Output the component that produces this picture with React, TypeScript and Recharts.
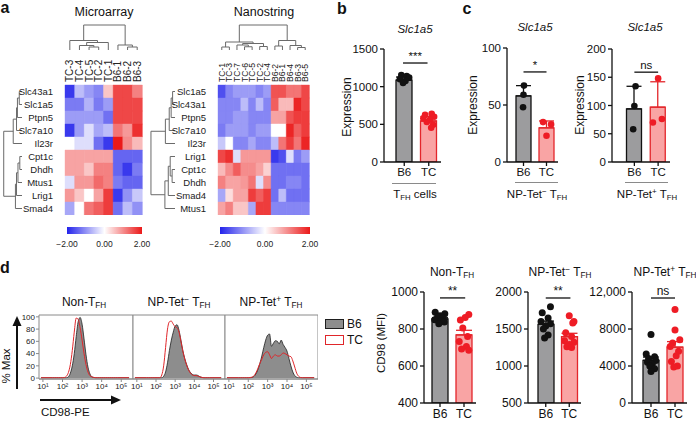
import React from 'react';
import {
  BarChart, Bar, Cell, XAxis, YAxis, ScatterChart, Scatter, ComposedChart,
  Area, Line, ErrorBar, ReferenceLine, ReferenceArea,
} from 'recharts';

const FONT = '"Liberation Sans", Arial, Helvetica, sans-serif';

// ---------- a: heatmaps ----------
const maCols = ['TC-3', 'TC-4', 'TC-5', 'TC-2', 'TC-1', 'B6-1', 'B6-2', 'B6-3'];
const maRows = ['Slc43a1', 'Slc1a5', 'Ptpn5', 'Slc7a10', 'Il23r', 'Cpt1c', 'Dhdh', 'Mtus1', 'Lrig1', 'Smad4'];
const maValues = [
  [-1.8, -0.6, -0.9, -1.1, 0.5, 1.6, 1.6, 1.1],
  [-1.2, -1.2, -0.7, -1.2, -0.9, 1.6, 1.6, 1.6],
  [-0.9, -0.9, -0.9, -0.9, -1.3, 1.6, 1.6, 1.6],
  [-1.8, -0.9, -0.3, -0.8, -0.6, 1.2, 0.9, 1.8],
  [0, -0.3, -0.3, -1.3, -1.8, 2.0, 1.0, 0.6],
  [0.8, 0.8, 0.8, 0.8, 0.8, -1.4, -1.4, -1.4],
  [0.8, 0.8, 0.5, 1.1, 1.1, -1.4, -1.8, -1.2],
  [-0.3, 0.9, 0.9, 1.3, 1.1, -1.2, -1.4, -1.4],
  [0.9, 0.5, 0, 0.8, 1.7, -1.8, -1.0, -0.5],
  [-0.8, 0, 1.2, 1.4, 1.7, -1.3, -0.6, -1.0],
];
// [leafA, heightA, leafB, heightB, joinHeight]
const maColLinks = [
  [2, 0, 3, 0, 1.2], [1, 0, 2.5, 1.2, 1.8], [1.75, 1.8, 4, 0, 3.0], [0, 0, 2.875, 3.0, 3.8],
  [6, 0, 7, 0, 1.2], [5, 0, 6.5, 1.2, 2.0], [1.44, 3.8, 5.75, 2.0, 10],
];
const maRowLinks = [
  [0, 0, 1, 0, 1.5], [0.5, 1.5, 2, 0, 2.5], [1.25, 2.5, 3, 0, 3.0], [2.125, 3.0, 4, 0, 4.8],
  [5, 0, 6, 0, 1.2], [5.5, 1.2, 7, 0, 2.2], [6.25, 2.2, 8, 0, 3.0], [7.125, 3.0, 9, 0, 3.6],
  [3.06, 4.8, 8.06, 3.6, 10],
];

const nsCols = ['TC-1', 'TC-3', 'TC-7', 'TC-6', 'TC-5', 'TC-2', 'TC-4', 'B6-2', 'B6-1', 'B6-4', 'B6-3', 'B6-5'];
const nsRows = ['Slc1a5', 'Slc43a1', 'Ptpn5', 'Slc7a10', 'Il23r', 'Lrig1', 'Cpt1c', 'Dhdh', 'Smad4', 'Mtus1'];
const nsValues = [
  [-1.6, -1.1, -0.9, -0.9, -0.9, -1.1, -0.9, 1.5, 1.5, 1.2, 1.2, 1.6],
  [-1.1, -1.1, -1.1, -0.6, -1.1, -0.6, -1.1, 1.4, 0.6, 0.6, 1.9, 1.6],
  [-1.1, -1.1, -0.9, -0.9, -1.1, -1.1, -1.1, 0.8, 0.8, 1.5, 1.7, 1.7],
  [-1.2, -0.9, -0.9, -0.9, -1.1, -0.9, -0.9, 0, 0, 1.9, 1.4, 1.7],
  [-0.5, 0, -1.1, -1.1, -0.8, -1.1, -1.1, -0.6, 1.2, 1.7, 1.2, 1.9],
  [1.6, 1.8, -0.3, 0.9, 0.9, 0.9, 0.9, -1.8, -1.6, -0.3, -1.2, -0.9],
  [0.6, 1.0, 1.4, 1.0, 1.0, 0.8, 0.4, -1.3, -1.3, -1.3, -1.3, -1.3],
  [1.1, 0.8, 0.8, 0.9, 1.2, -0.3, 1.0, -1.3, -1.3, -1.1, -1.1, -1.3],
  [-0.8, 0.3, 0.8, 0.8, 1.7, 1.4, 1.7, -1.3, -0.6, -1.3, -1.3, -1.3],
  [0.8, 1.1, 0.5, 0.5, -0.8, 1.7, 1.7, -1.1, -1.1, -1.1, -1.1, -1.1],
];
const nsColLinks = [
  [0, 0, 1, 0, 1.2], [3, 0, 4, 0, 1.3], [2, 0, 3.5, 1.3, 2.0], [5, 0, 6, 0, 1.4],
  [2.75, 2.0, 5.5, 1.4, 2.6], [0.5, 1.2, 4.125, 2.6, 3.2], [7, 0, 8, 0, 1.6],
  [10, 0, 11, 0, 1.0], [9, 0, 10.5, 1.0, 1.8], [7.5, 1.6, 9.75, 1.8, 3.8],
  [2.3125, 3.2, 8.625, 3.8, 10],
];
const nsRowLinks = [
  [0, 0, 1, 0, 1.0], [0.5, 1.0, 2, 0, 1.6], [1.25, 1.6, 3, 0, 2.4], [2.125, 2.4, 4, 0, 4.0],
  [6, 0, 7, 0, 1.2], [5, 0, 6.5, 1.2, 2.0], [5.75, 2.0, 8, 0, 2.8], [6.875, 2.8, 9, 0, 4.2],
  [3.06, 4.0, 7.94, 4.2, 10],
];
const colorTicks = ['\u22122.00', '0.00', '2.00'];

// ---------- b, c, d bars ----------
const groups = ['B6', 'TC'];

const bMeans = [1088, 544];
const bErrs = [40, 60];
const bB6 = [1155, 1140, 1120, 1100, 1075, 1050];
const bB6X = [-0.12, 0.1, 0.2, -0.18, 0.05, -0.05];
const bTC = [640, 625, 600, 580, 560, 530, 495, 455];
const bTCX = [0.12, -0.15, 0.22, -0.22, 0.05, -0.08, 0.18, 0.1];

const c1Means = [58, 30];
const c1Errs = [9, 6];
const c1B6 = [67, 59, 48];
const c1B6X = [0.02, 0, -0.02];
const c1TC = [35, 33, 23];
const c1TCX = [-0.15, 0.2, 0];

const c2Means = [94, 97];
const c2Errs = [40, 45];
const c2B6 = [134, 99, 58];
const c2B6X = [0.05, 0, -0.05];
const c2TC = [148, 70, 76];
const c2TCX = [0, -0.22, 0.16];

const d1Means = [854, 768];
const d1Errs = [7, 25];
const d1B6 = [890, 882, 872, 865, 858, 850, 845, 838, 828];
const d1B6X = [-0.2, 0.2, 0, -0.1, 0.12, -0.22, 0.05, 0.18, -0.05];
const d1TC = [878, 862, 848, 805, 760, 732, 705, 692, 685];
const d1TCX = [0.2, 0.05, -0.15, -0.05, 0.15, -0.2, 0.1, -0.1, 0.2];

const d2Means = [1562, 1397];
const d2Errs = [45, 45];
const d2B6 = [1800, 1720, 1650, 1600, 1570, 1540, 1500, 1420, 1380];
const d2B6X = [0.2, -0.15, 0.1, -0.2, 0.2, 0, -0.1, 0.1, -0.05];
const d2TC = [1680, 1600, 1580, 1450, 1400, 1340, 1320, 1290, 1260, 1250];
const d2TCX = [0, 0.2, 0.15, -0.15, 0.1, -0.2, 0.2, 0, -0.1, 0.1];

const d3Means = [4615, 6036];
const d3Errs = [350, 600];
const d3B6 = [7400, 5300, 5000, 4800, 4600, 4400, 4200, 4000, 3700, 3400];
const d3B6X = [0, -0.2, 0.15, -0.1, 0.2, -0.15, 0.05, -0.05, 0.15, 0];
const d3TC = [10100, 7900, 6850, 6500, 6100, 5600, 5100, 4500, 4000, 3900];
const d3TCX = [0, 0, 0.2, -0.1, -0.2, 0.15, 0.05, -0.15, 0.1, -0.05];

// ---------- d histograms (log10 CD98-PE vs % max) ----------
const histLogs = [0.9, 1.5, 1.6, 1.7, 1.8, 1.9, 2.0, 2.1, 2.2, 2.3, 2.4, 2.5, 2.6, 2.7, 2.8, 2.9, 3.0, 3.1,
  3.2, 3.3, 3.4, 3.5, 3.6, 3.7, 3.8, 3.9, 4.0, 4.1, 4.2, 4.3, 4.4, 4.5, 4.6, 4.7, 4.8, 5.4];
const nonB6 = [0.5, 0.5, 0.5, 0.5, 0.5, 0.5, 0.5, 0.5, 0.5, 2, 8, 20, 40, 68, 92, 99, 88, 64,
  38, 18, 7, 2, 1, 0.5, 0.5, 0.5, 0.5, 0.5, 0.5, 0.5, 0.5, 0.5, 0.5, 0.5, 0.5, 0.5];
const nonTC = [0.5, 0.5, 0.5, 0.5, 0.5, 0.5, 0.5, 1, 3, 9, 22, 45, 75, 98, 96, 82, 62, 40,
  22, 10, 4, 2, 1, 0.5, 0.5, 0.5, 0.5, 0.5, 0.5, 0.5, 0.5, 0.5, 0.5, 0.5, 0.5, 0.5];
const negB6 = [0.5, 0.5, 0.5, 0.5, 0.5, 0.5, 0.5, 0.5, 0.5, 0.5, 3, 10, 25, 45, 62, 75, 85, 87,
  78, 62, 45, 32, 22, 14, 9, 6, 5, 5, 4, 2, 1, 0.5, 0.5, 0.5, 0.5, 0.5];
const negTC = [0.5, 0.5, 0.5, 0.5, 0.5, 0.5, 0.5, 0.5, 0.5, 5, 20, 50, 80, 92, 93, 88, 84, 82,
  75, 60, 44, 31, 21, 13, 8, 5, 4, 4, 3, 2, 1, 0.5, 0.5, 0.5, 0.5, 0.5];
const posB6 = [0.5, 0.5, 0.5, 0.5, 0.5, 0.5, 0.5, 0.5, 1, 3, 7, 14, 24, 36, 50, 62, 70, 72,
  52, 57, 61, 60, 56, 62, 55, 50, 44, 32, 20, 10, 4, 1.5, 0.5, 0.5, 0.5, 0.5];
const posTC = [0.5, 0.5, 0.5, 0.5, 0.5, 0.5, 0.5, 1, 1.5, 4, 9, 16, 24, 31, 38, 42, 43, 38,
  32, 36, 38, 36, 36, 38, 41, 40, 38, 36, 35, 28, 18, 8, 3, 1, 0.5, 0.5];
const logTicks = [1, 2, 3, 4, 5];
const pctTicks = [0, 20, 40, 60, 80, 100];
const sup = ['\u2070', '\u00b9', '\u00b2', '\u00b3', '\u2074', '\u2075'];

const B6_FILL = '#9c9c9e';
const TC_FILL = '#f9a4a4';
const TC_RED = '#e3262b';
const DOT_RED = '#ee1c25';

const heatColor = (v: number) => {
  const t = Math.max(-1, Math.min(1, v / 2));
  const mix = (a: number, b: number, k: number) => Math.round(a + (b - a) * k);
  if (t < 0) {
    const k = -t;
    return `rgb(${mix(255, 35, k)},${mix(255, 35, k)},${mix(255, 235, k)})`;
  }
  return `rgb(${mix(255, 235, t)},${mix(255, 25, t)},${mix(255, 25, t)})`;
};

const Txt = ({ x, y, size = 12, rot = false, italic = false, bold = false, children }: any) => (
  <div style={{
    position: 'absolute', left: x, top: y, fontSize: size, lineHeight: 1, whiteSpace: 'nowrap',
    fontStyle: italic ? 'italic' : 'normal', fontWeight: bold ? 700 : 400, color: '#111',
    transform: `translate(-50%, -50%)${rot ? ' rotate(-90deg)' : ''}`,
  }}>{children}</div>
);

const Sub = ({ children }: any) => (
  <span style={{ fontSize: '0.68em', position: 'relative', top: '0.3em' }}>{children}</span>
);
const Sup = ({ children }: any) => (
  <span style={{ fontSize: '0.7em', position: 'relative', top: '-0.45em' }}>{children}</span>
);
const Tfh = () => <>T<Sub>FH</Sub></>;
const NonTfh = () => <>Non-<Tfh /></>;
const TetNeg = () => <>NP-Tet<Sup>{'\u2212'}</Sup> <Tfh /></>;
const TetPos = () => <>NP-Tet<Sup>+</Sup> <Tfh /></>;

const ColTick = ({ x, y, payload, fs }: any) => (
  <text transform={`translate(${x},${y}) rotate(-90)`} textAnchor="start" dominantBaseline="central"
    fontSize={fs} fill="#222">{payload.value}</text>
);

const Heatmap = ({ left, labelW, plotW, cols, rows, values, colFs }: any) => {
  const data = cols.map((c: string) => {
    const o: any = { col: c };
    rows.forEach((_: string, i: number) => { o['r' + i] = 1; });
    return o;
  });
  return (
    <div style={{ position: 'absolute', left, top: 52 }}>
      <BarChart width={labelW + plotW + 6} height={33 + 130} data={data} barCategoryGap={0}
        margin={{ top: 0, right: 6, bottom: 0, left: 0 }}>
        <XAxis dataKey="col" orientation="top" height={33} axisLine={false} tickLine={false}
          tickSize={0} tickMargin={3} interval={0} tick={<ColTick fs={colFs} />} />
        <YAxis type="number" domain={[0, rows.length]} reversed width={labelW}
          ticks={rows.map((_: string, i: number) => i + 0.5)} tickFormatter={(v: number) => rows[Math.floor(v)]}
          axisLine={false} tickLine={false} tickSize={0} tickMargin={12} interval={0}
          tick={{ fontSize: 9.5, fill: '#222' }} />
        {rows.map((r: string, i: number) => (
          <Bar key={r} dataKey={'r' + i} stackId="h" isAnimationActive={false}>
            {cols.map((c: string, j: number) => (
              <Cell key={c} fill={heatColor(values[i][j])} stroke={heatColor(values[i][j])} strokeWidth={0.4} />
            ))}
          </Bar>
        ))}
      </BarChart>
    </div>
  );
};

const Dendro = ({ links, n, side, left, top, width, height }: any) => {
  const segs = links.map(([a, ha, b, hb, t]: number[]) => (side === 'top'
    ? [{ x: a, y: ha }, { x: a, y: t }, { x: b, y: t }, { x: b, y: hb }]
    : [{ x: ha, y: a }, { x: t, y: a }, { x: t, y: b }, { x: hb, y: b }]));
  const leafDom = [-0.5, n - 0.5];
  const hDom = [0, 10.4];
  return (
    <div style={{ position: 'absolute', left, top }}>
      <ScatterChart width={width} height={height} margin={{ top: 0, right: 0, bottom: 0, left: 0 }}>
        <XAxis type="number" dataKey="x" domain={side === 'top' ? leafDom : hDom} reversed={side !== 'top'} hide allowDataOverflow />
        <YAxis type="number" dataKey="y" domain={side === 'top' ? hDom : leafDom} reversed={side !== 'top'} hide allowDataOverflow />
        {segs.map((s: any, k: number) => (
          <Scatter key={k} data={s} line={{ stroke: '#6a6a6a', strokeWidth: 1 }} shape={() => <g />} isAnimationActive={false} />
        ))}
      </ScatterChart>
    </div>
  );
};

const ColorBar = ({ left, width }: any) => (
  <div style={{ position: 'absolute', left, top: 227, width }}>
    <div style={{ height: 7, background: `linear-gradient(to right, ${heatColor(-2)}, #ffffff, ${heatColor(2)})` }} />
    {colorTicks.map((t, i) => (
      <div key={t} style={{
        position: 'absolute', top: 12, left: `${(i / (colorTicks.length - 1)) * 100}%`,
        transform: 'translateX(-50%)', fontSize: 8.5, color: '#222', whiteSpace: 'nowrap',
      }}>{t}</div>
    ))}
  </div>
);

const dotShape = (color: string, r: number) => (props: any) => (
  <circle cx={props.cx} cy={props.cy} r={r} fill={color} />
);

const DotBar = (p: any) => {
  const data = groups.map((g, i) => ({
    g,
    b6: i === 0 ? p.means[0] : undefined,
    tc: i === 1 ? p.means[1] : undefined,
    eb: i === 0 ? [0, p.errs[0]] : undefined,
    et: i === 1 ? [0, p.errs[1]] : undefined,
  }));
  const b6pts = p.b6.map((y: number, i: number) => ({ x: p.b6x[i], y }));
  const tcpts = p.tc.map((y: number, i: number) => ({ x: 1 + p.tcx[i], y }));
  const ax = { stroke: '#111', strokeWidth: 1.3 };
  const pad = { left: p.padL, right: 0 };
  return (
    <div style={{ position: 'absolute', left: p.left, top: p.top }}>
      <ComposedChart width={p.yw + p.plotW} height={p.mTop + p.plotH + p.xh} data={data}
        margin={{ top: p.mTop, right: 0, bottom: 0, left: 0 }}>
        <XAxis xAxisId="c" dataKey="g" type="category" height={p.xh} padding={pad} interval={0}
          axisLine={ax} tickLine={ax} tickSize={4} tickMargin={2} tick={{ fontSize: p.fs, fill: '#111' }} />
        <XAxis xAxisId="c2" dataKey="g" type="category" hide padding={pad} />
        <XAxis xAxisId="n" dataKey="x" type="number" domain={[-0.5, 1.5]} hide padding={pad} allowDataOverflow />
        <YAxis width={p.yw} domain={p.domain} ticks={p.ticks} tickFormatter={p.fmt} allowDataOverflow interval={0}
          axisLine={ax} tickLine={ax} tickSize={4} tickMargin={2} tick={{ fontSize: p.fs, fill: '#111' }} />
        <Bar xAxisId="c" dataKey="b6" barSize={p.barSize} fill={B6_FILL} stroke="#111" strokeWidth={1.3} isAnimationActive={false}>
          <ErrorBar dataKey="eb" width={p.barSize / 2} stroke="#111" strokeWidth={1.3} direction="y" />
        </Bar>
        <Bar xAxisId="c2" dataKey="tc" barSize={p.barSize} fill={TC_FILL} stroke={TC_RED} strokeWidth={1.3} isAnimationActive={false}>
          <ErrorBar dataKey="et" width={p.barSize / 2} stroke={TC_RED} strokeWidth={1.3} direction="y" />
        </Bar>
        <Scatter xAxisId="n" data={b6pts} dataKey="y" shape={dotShape('#111', p.r)} isAnimationActive={false} />
        <Scatter xAxisId="n" data={tcpts} dataKey="y" shape={dotShape(DOT_RED, p.r)} isAnimationActive={false} />
        <ReferenceLine xAxisId="n" segment={[{ x: p.sigX[0], y: p.sigY }, { x: p.sigX[1], y: p.sigY }]}
          stroke="#111" strokeWidth={1.3} label={{ value: p.sig, position: 'top', fontSize: p.fs, fill: '#111', offset: 3 }} />
      </ComposedChart>
    </div>
  );
};

// panel box spans x 39..318; plot top at y 315, bottom 379
const Histo = ({ left, width, yw, b6, tc }: any) => {
  const data = histLogs.map((lg, i) => ({ lg, b6: b6[i], tc: tc[i] }));
  const grey = { stroke: '#8a8a8a', strokeWidth: 1 };
  const padL = yw ? 0 : 8;
  return (
    <div style={{ position: 'absolute', left: left - padL, top: 309 }}>
      <ComposedChart width={width + padL} height={86} data={data} margin={{ top: 6, right: 0, bottom: 0, left: padL }}>
        <XAxis type="number" dataKey="lg" domain={[0.8, 5.6]} ticks={logTicks} allowDataOverflow interval={0}
          tickFormatter={(v: number) => '10' + sup[v]} height={16} axisLine={grey} tickLine={grey}
          tickSize={3} tickMargin={1} tick={{ fontSize: 8, fill: '#222' }} />
        <YAxis domain={[-1.5, 103]} ticks={pctTicks} hide={!yw} width={yw || 0} allowDataOverflow interval={0}
          axisLine={false} tickLine={grey} tickSize={3} tickMargin={1} tick={{ fontSize: 8, fill: '#222' }} />
        <Area dataKey="b6" type="monotone" fill="#8d8d8d" fillOpacity={1} stroke="#1e1e1e" strokeWidth={0.8}
          dot={false} isAnimationActive={false} />
        <Line dataKey="tc" type="monotone" stroke="#e0262a" strokeWidth={1} dot={false} isAnimationActive={false} />
        <ReferenceArea x1={0.8} x2={5.6} y1={-1.5} y2={103} fill="none" stroke="#8a8a8a" strokeWidth={1} ifOverflow="visible" />
      </ComposedChart>
    </div>
  );
};

const Underline = ({ x1, x2, y }: any) => (
  <div style={{ position: 'absolute', left: x1, top: y, width: x2 - x1, borderTop: '1px solid #8a8a8a' }} />
);

export default function App() {
  return (
    <div style={{ position: 'relative', width: 696, height: 421, background: '#fff', fontFamily: FONT, overflow: 'hidden' }}>
      <style>{'body{margin:0}'}</style>

      {/* a */}
      <Txt x={5} y={8} size={16} bold>a</Txt>
      <Txt x={104} y={12} size={12.5}>Microarray</Txt>
      <Txt x={264} y={12} size={12.5}>Nanostring</Txt>
      <Dendro links={maColLinks} n={maCols.length} side="top" left={65} top={24} width={77} height={26} />
      <Dendro links={maRowLinks} n={maRows.length} side="left" left={3} top={85} width={19} height={130} />
      <Heatmap left={0} labelW={65} plotW={77} cols={maCols} rows={maRows} values={maValues} colFs={10} />
      <Dendro links={nsColLinks} n={nsCols.length} side="top" left={218} top={24} width={91} height={26} />
      <Dendro links={nsRowLinks} n={nsRows.length} side="left" left={150} top={85} width={25} height={130} />
      <Heatmap left={150} labelW={68} plotW={91} cols={nsCols} rows={nsRows} values={nsValues} colFs={8.6} />
      <ColorBar left={67} width={75} />
      <ColorBar left={220} width={90} />

      {/* b */}
      <Txt x={342} y={9} size={16} bold>b</Txt>
      <Txt x={415} y={30} size={11.5} italic>Slc1a5</Txt>
      <Txt x={347} y={107} size={12} rot>Expression</Txt>
      <DotBar left={340} top={30} yw={44} plotW={57} mTop={19} plotH={113} xh={22} padL={8} barSize={16} fs={11.5} r={3.3}
        domain={[0, 1500]} ticks={[0, 500, 1000, 1500]} means={bMeans} errs={bErrs}
        b6={bB6} b6x={bB6X} tc={bTC} tcx={bTCX} sig="***" sigY={1314} sigX={[-0.05, 0.95]} />
      <Underline x1={392} x2={436} y={183} />
      <Txt x={415} y={195} size={11.5}><Tfh /> cells</Txt>

      {/* c */}
      <Txt x={467} y={9} size={16} bold>c</Txt>
      <Txt x={535} y={28} size={11.5} italic>Slc1a5</Txt>
      <Txt x={473} y={105} size={12} rot>Expression</Txt>
      <DotBar left={470} top={29} yw={37} plotW={51} mTop={19} plotH={114} xh={22} padL={5} barSize={15} fs={11.5} r={3.3}
        domain={[0, 100]} ticks={[0, 50, 100]} means={c1Means} errs={c1Errs}
        b6={c1B6} b6x={c1B6X} tc={c1TC} tcx={c1TCX} sig="*" sigY={79} sigX={[0, 1]} />
      <Underline x1={515} x2={558} y={182} />
      <Txt x={537} y={195} size={11.5}><TetNeg /></Txt>

      <Txt x={645} y={28} size={11.5} italic>Slc1a5</Txt>
      <Txt x={580} y={105} size={12} rot>Expression</Txt>
      <DotBar left={575} top={30} yw={37} plotW={58} mTop={19} plotH={113} xh={22} padL={10.5} barSize={15} fs={11.5} r={3.3}
        domain={[0, 200]} ticks={[0, 50, 100, 150, 200]} means={c2Means} errs={c2Errs}
        b6={c2B6} b6x={c2B6X} tc={c2TC} tcx={c2TCX} sig="ns" sigY={159} sigX={[0, 1]} />
      <Underline x1={625} x2={668} y={182} />
      <Txt x={647} y={195} size={11.5}><TetPos /></Txt>

      {/* d: histograms */}
      <Txt x={5} y={268} size={16} bold>d</Txt>
      <Txt x={84} y={302} size={12}><NonTfh /></Txt>
      <Txt x={179} y={302} size={12}><TetNeg /></Txt>
      <Txt x={271} y={302} size={12}><TetPos /></Txt>
      <Histo left={0} width={133} yw={39} b6={nonB6} tc={nonTC} />
      <Histo left={133} width={92} yw={0} b6={negB6} tc={negTC} />
      <Histo left={225} width={93} yw={0} b6={posB6} tc={posTC} />
      <svg style={{ position: 'absolute', left: 0, top: 0 }} width={696} height={421}>
        <line x1={17} y1={389} x2={17} y2={324} stroke="#111" strokeWidth={2} />
        <polygon points="12.5,326 21.5,326 17,316" fill="#111" />
        <line x1={40} y1={400} x2={113} y2={400} stroke="#111" strokeWidth={2} />
        <polygon points="111,395.5 111,404.5 121,400" fill="#111" />
      </svg>
      <Txt x={7} y={366} size={11.5} rot>% Max</Txt>
      <div style={{ position: 'absolute', left: 41, top: 406, fontSize: 11.5, color: '#111' }}>CD98-PE</div>

      {/* legend */}
      <div style={{ position: 'absolute', left: 325, top: 319, width: 17, height: 8, background: '#8d8d8d', border: '1px solid #1e1e1e' }} />
      <div style={{ position: 'absolute', left: 347, top: 318, fontSize: 12, lineHeight: 1, color: '#111' }}>B6</div>
      <div style={{ position: 'absolute', left: 325, top: 335, width: 17, height: 8, background: '#fff', border: '1px solid #e0262a' }} />
      <div style={{ position: 'absolute', left: 347, top: 334, fontSize: 12, lineHeight: 1, color: '#111' }}>TC</div>

      {/* d: bars */}
      <Txt x={382} y={343} size={11.5} rot>CD98 (MFI)</Txt>
      <Txt x={452} y={272} size={12}><NonTfh /></Txt>
      <DotBar left={380} top={275} yw={44} plotW={52} mTop={17} plotH={111} xh={18} padL={4} barSize={16} fs={12} r={3.5}
        domain={[400, 1000]} ticks={[400, 600, 800, 1000]} means={d1Means} errs={d1Errs}
        b6={d1B6} b6x={d1B6X} tc={d1TC} tcx={d1TCX} sig="**" sigY={968} sigX={[0, 1.05]} />
      <Txt x={560} y={272} size={12}><TetNeg /></Txt>
      <DotBar left={484} top={275} yw={44} plotW={53} mTop={17} plotH={111} xh={18} padL={6} barSize={16} fs={12} r={3.5}
        domain={[500, 2000]} ticks={[500, 1000, 1500, 2000]} means={d2Means} errs={d2Errs}
        b6={d2B6} b6x={d2B6X} tc={d2TC} tcx={d2TCX} sig="**" sigY={1919} sigX={[0, 1.05]} />
      <Txt x={665} y={272} size={12}><TetPos /></Txt>
      <DotBar left={582} top={275} yw={50} plotW={55} mTop={17} plotH={111} xh={18} padL={7} barSize={16} fs={12} r={3.5}
        domain={[0, 12000]} ticks={[0, 4000, 8000, 12000]} fmt={(v: number) => (v === 12000 ? '12,000' : String(v))}
        means={d3Means} errs={d3Errs}
        b6={d3B6} b6x={d3B6X} tc={d3TC} tcx={d3TCX} sig="ns" sigY={11350} sigX={[0, 1]} />
    </div>
  );
}
